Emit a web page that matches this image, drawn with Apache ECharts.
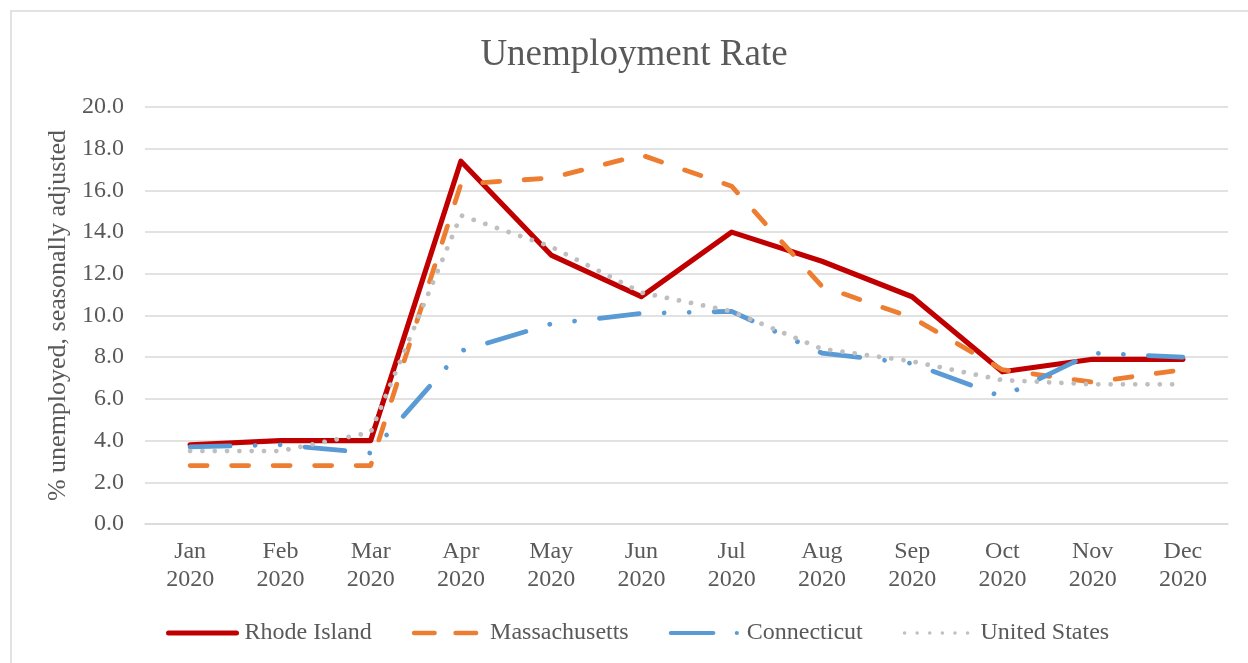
<!DOCTYPE html>
<html>
<head>
<meta charset="utf-8">
<title>Unemployment Rate</title>
<script src="https://cdn.jsdelivr.net/npm/echarts@6/dist/echarts.min.js"></script>
<style>
  html, body { margin: 0; padding: 0; background: #ffffff; }
  #chart { width: 1248px; height: 663px; }
</style>
</head>
<body>
<div id="chart"></div>
<script>
// Monthly unemployment rate, 2020 (% unemployed, seasonally adjusted)
const months = ['Jan\n2020', 'Feb\n2020', 'Mar\n2020', 'Apr\n2020', 'May\n2020', 'Jun\n2020',
                'Jul\n2020', 'Aug\n2020', 'Sep\n2020', 'Oct\n2020', 'Nov\n2020', 'Dec\n2020'];
const rhodeIsland   = [3.8, 4.0, 4.0, 17.4, 12.9, 10.9, 14.0, 12.6, 10.9, 7.3, 7.9, 7.9];
const massachusetts = [2.8, 2.8, 2.8, 16.3, 16.6, 17.7, 16.2, 11.4, 9.9, 7.4, 6.8, 7.4];
const connecticut   = [3.7, 3.8, 3.4, 8.3, 9.6, 10.1, 10.2, 8.2, 7.7, 6.1, 8.2, 8.0];
const unitedStates  = [3.5, 3.5, 4.4, 14.8, 13.3, 11.1, 10.2, 8.4, 7.8, 6.9, 6.7, 6.7];

const FONT = '"Liberation Serif", "Times New Roman", serif';
const TEXT = '#595959';
const GRID = '#D9D9D9';

const chart = echarts.init(document.getElementById('chart'), null, { renderer: 'canvas' });

function lineSeries(name, data, color, width, dash) {
  return {
    name: name,
    type: 'line',
    data: data,
    symbol: 'none',
    smooth: false,
    animation: false,
    lineStyle: {
      color: color,
      width: width,
      type: dash,
      cap: 'round',
      join: 'round'
    },
    itemStyle: { color: color }
  };
}

// legend entries show the line pattern only, without a marker
const noMarker = { color: 'transparent', borderWidth: 0, opacity: 0 };

chart.setOption({
  animation: false,
  backgroundColor: '#ffffff',
  title: {
    text: 'Unemployment Rate',
    left: 629,
    top: 32,
    textAlign: 'center',
    textStyle: { fontFamily: FONT, fontSize: 37, fontWeight: 'normal', color: TEXT }
  },
  graphic: [{
    type: 'rect',
    shape: { x: 11, y: 11, width: 1300, height: 700 },
    style: { fill: 'none', stroke: GRID, lineWidth: 1.5 },
    silent: true,
    z: -1
  }],
  grid: { left: 145, right: 20, top: 107, bottom: 139, containLabel: false },
  legend: {
    left: 161,
    top: 616,
    itemWidth: 68,
    itemHeight: 14,
    itemGap: 40,
    textStyle: { fontFamily: FONT, fontSize: 24, color: TEXT, padding: [0, 0, 0, 3] },
    data: [
      { name: 'Rhode Island', itemStyle: noMarker,
        lineStyle: { color: '#C00000', width: 5, type: 'solid', cap: 'round' } },
      { name: 'Massachusetts', itemStyle: noMarker,
        lineStyle: { color: '#ED7D31', width: 4.5, type: [20.5, 21], cap: 'round' } },
      { name: 'Connecticut', itemStyle: noMarker,
        lineStyle: { color: '#5B9BD5', width: 4.2, type: [42.5, 23.5, 0.01, 60], cap: 'round' } },
      { name: 'United States', itemStyle: noMarker,
        lineStyle: { color: '#BFBFBF', width: 3.5, type: [0.01, 12.6], cap: 'round' } }
    ]
  },
  xAxis: {
    type: 'category',
    data: months,
    boundaryGap: true,
    axisLine: { show: true, lineStyle: { color: GRID, width: 1.5 } },
    axisTick: { show: false },
    axisLabel: {
      margin: 14,
      fontFamily: FONT,
      fontSize: 24,
      lineHeight: 28,
      color: TEXT,
      interval: 0
    },
    splitLine: { show: false }
  },
  yAxis: {
    type: 'value',
    min: 0,
    max: 20,
    interval: 2,
    name: '% unemployed, seasonally adjusted',
    nameLocation: 'middle',
    nameGap: 70,
    nameRotate: 90,
    nameTextStyle: { fontFamily: FONT, fontSize: 26, color: TEXT },
    axisLine: { show: false },
    axisTick: { show: false },
    axisLabel: {
      margin: 21,
      fontFamily: FONT,
      fontSize: 24,
      color: TEXT,
      formatter: function (v) { return v.toFixed(1); }
    },
    splitLine: { show: true, lineStyle: { color: GRID, width: 1.5 } }
  },
  series: [
    lineSeries('Rhode Island', rhodeIsland, '#C00000', 5.2, 'solid'),
    lineSeries('Massachusetts', massachusetts, '#ED7D31', 4.8, [17, 24.5]),
    lineSeries('Connecticut', connecticut, '#5B9BD5', 4.8, [40, 25, 0.01, 25, 0.01, 25]),
    lineSeries('United States', unitedStates, '#BFBFBF', 4.8, [0.01, 12.3])
  ]
});
</script>
</body>
</html>
